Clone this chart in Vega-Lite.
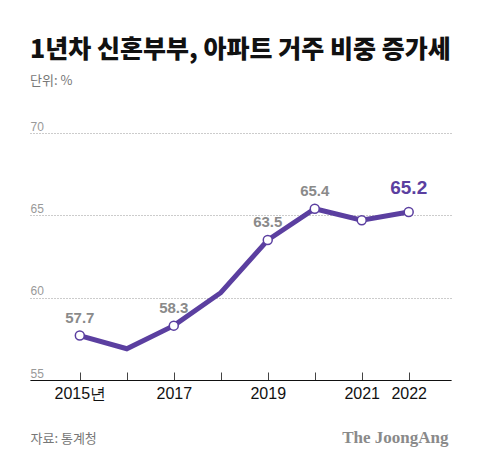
{
  "$schema": "https://vega.github.io/schema/vega-lite/v6.json",
  "width": 421,
  "height": 247,
  "autosize": {"type": "none"},
  "padding": {"top": 133, "left": 30, "right": 29, "bottom": 79},
  "background": "white",
  "title": {
    "text": "1년차 신혼부부, 아파트 거주 비중 증가세",
    "subtitle": "단위: %",
    "anchor": "start",
    "frame": "group",
    "offset": 32,
    "font": "Noto Sans CJK KR",
    "fontSize": 25,
    "fontWeight": 900,
    "color": "#111",
    "subtitleFont": "Noto Sans CJK KR",
    "subtitleFontSize": 13,
    "subtitleColor": "#777",
    "subtitlePadding": 12
  },
  "config": {
    "view": {"stroke": null},
    "axis": {"labelFont": "Liberation Sans", "titleFont": "Noto Sans CJK KR"}
  },
  "data": {
    "values": [
      {"year": 2015, "share": 57.7},
      {"year": 2016, "share": 56.9},
      {"year": 2017, "share": 58.3},
      {"year": 2018, "share": 60.3},
      {"year": 2019, "share": 63.5},
      {"year": 2020, "share": 65.4},
      {"year": 2021, "share": 64.7},
      {"year": 2022, "share": 65.2}
    ]
  },
  "encoding": {
    "x": {
      "field": "year",
      "type": "quantitative",
      "scale": {"domain": [2013.94, 2022.9], "nice": false, "zero": false},
      "axis": {
        "values": [2015, 2016, 2017, 2018, 2019, 2020, 2021, 2022],
        "format": "d",
        "labelExpr": "datum.value == 2015 ? '2015년' : (datum.value == 2016 || datum.value == 2018 || datum.value == 2020 ? '' : datum.label)",
        "grid": false,
        "domain": true,
        "domainColor": "#111",
        "domainWidth": 1.2,
        "ticks": true,
        "tickSize": -8,
        "tickColor": "#444",
        "tickWidth": 1,
        "labelPadding": 13,
        "labelBaseline": "top",
        "labelFontSize": 16,
        "labelColor": "#111",
        "labelFont": "Liberation Sans",
        "labelFlush": false,
        "labelOverlap": false,
        "title": "자료: 통계청",
        "titleAnchor": "start",
        "titleAlign": "left",
        "titleBaseline": "alphabetic",
        "titleX": 0,
        "titleY": 62,
        "titleFontSize": 13,
        "titleFontWeight": "normal",
        "titleColor": "#777"
      }
    },
    "y": {
      "field": "share",
      "type": "quantitative",
      "scale": {"domain": [55, 70], "nice": false, "zero": false},
      "axis": {
        "values": [55, 60, 65, 70],
        "domain": false,
        "ticks": false,
        "tickSize": 0,
        "grid": true,
        "gridDash": [1, 2],
        "gridColor": "#999",
        "gridWidth": 1,
        "labelAlign": "left",
        "labelBaseline": "alphabetic",
        "labelPadding": 0,
        "labelOffset": -3,
        "labelFontSize": 12,
        "labelColor": "#999",
        "title": "The JoongAng",
        "titleAngle": 0,
        "titleAlign": "right",
        "titleBaseline": "alphabetic",
        "titleX": 418,
        "titleY": 309,
        "titleFont": "Liberation Serif",
        "titleFontSize": 17,
        "titleFontWeight": "bold",
        "titleColor": "#8a8a8a"
      }
    }
  },
  "layer": [
    {
      "mark": {"type": "line", "color": "#5b3fa0", "strokeWidth": 5, "strokeJoin": "miter"}
    },
    {
      "transform": [{"filter": {"field": "year", "oneOf": [2015, 2017, 2019, 2020, 2021, 2022]}}],
      "mark": {"type": "point", "shape": "circle", "filled": true, "fill": "white", "stroke": "#5b3fa0", "strokeWidth": 1.5, "size": 80, "opacity": 1}
    },
    {
      "transform": [{"filter": {"field": "year", "oneOf": [2015, 2017, 2019, 2020]}}],
      "mark": {"type": "text", "dy": -18, "font": "Liberation Sans", "fontSize": 15, "fontWeight": "bold", "color": "#8a8a8a"},
      "encoding": {"text": {"field": "share", "type": "quantitative", "format": ".1f"}}
    },
    {
      "transform": [{"filter": {"field": "year", "oneOf": [2022]}}],
      "mark": {"type": "text", "dy": -24, "font": "Liberation Sans", "fontSize": 19, "fontWeight": "bold", "color": "#5b3fa0"},
      "encoding": {"text": {"field": "share", "type": "quantitative", "format": ".1f"}}
    }
  ]
}
